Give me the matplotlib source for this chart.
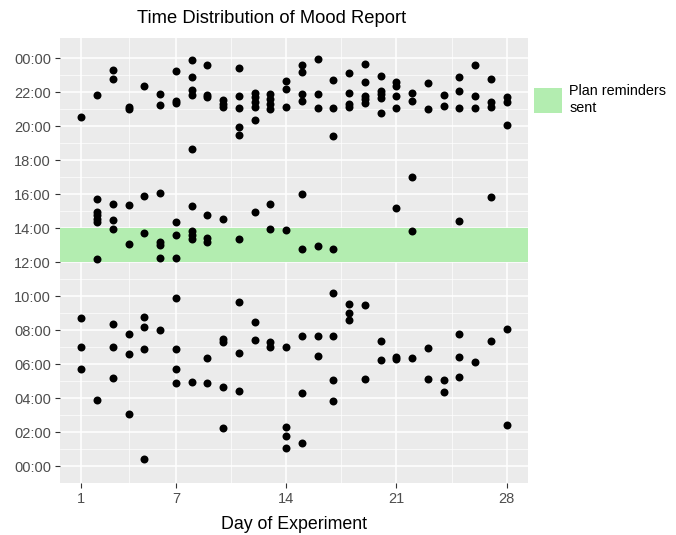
import numpy as np
import matplotlib.pyplot as plt
from matplotlib.patches import Patch

plt.rcParams['font.family'] = ['Liberation Sans', 'DejaVu Sans']

# evening reports (day, hour of day)
eve_day = [1, 2, 3, 3, 4, 4, 5, 6, 6, 7, 7, 7, 8, 8, 8, 8, 8, 9, 9, 9,
           10, 10, 10, 11, 11, 11, 11, 11, 12, 12, 12, 12, 12, 13, 13, 13, 13,
           14, 14, 14, 15, 15, 15, 15, 16, 16, 16, 17, 17, 17, 18, 18, 18, 18,
           19, 19, 19, 19, 19, 20, 20, 20, 20, 20, 21, 21, 21, 21, 22, 22,
           23, 23, 24, 24, 25, 25, 25, 26, 26, 26, 27, 27, 27, 28, 28, 28]
eve_hour = [20.55, 21.86, 23.33, 22.76, 21.0, 21.12, 22.37, 21.92, 21.24, 23.25, 21.5, 21.4,
            23.92, 22.88, 22.12, 21.86, 18.67, 23.63, 21.86, 21.72,
            21.53, 21.33, 21.14, 23.43, 21.8, 21.1, 19.96, 19.51,
            21.96, 21.72, 21.45, 21.14, 20.35, 21.88, 21.63, 21.33, 21.04,
            22.67, 22.2, 21.14, 23.63, 23.18, 21.88, 21.49, 23.98, 21.88, 21.08,
            22.75, 21.1, 19.45, 23.16, 21.98, 21.3, 21.14,
            23.65, 22.6, 21.8, 21.6, 21.37, 22.94, 22.08, 21.88, 21.67, 20.78,
            22.6, 22.37, 21.76, 21.08, 21.96, 21.49,
            22.55, 21.04, 21.86, 21.18, 22.9, 22.08, 21.08, 23.63, 21.8, 21.08,
            22.8, 21.43, 21.14, 21.72, 21.43, 20.1]

# midday reports
mid_day = [2, 2, 2, 2, 2, 2, 3, 3, 3, 4, 4, 5, 5, 6, 6, 6, 6, 7, 7, 7,
           8, 8, 8, 8, 9, 9, 9, 10, 11, 12, 13, 13, 14, 15, 15, 16, 17,
           21, 22, 22, 25, 27]
mid_hour = [15.7, 14.96, 14.76, 14.57, 14.37, 12.18, 15.45, 14.51, 13.98, 15.39, 13.05,
            15.88, 13.69, 16.08, 13.2, 13.0, 12.22, 14.37, 13.59, 12.25,
            15.29, 13.84, 13.59, 13.35, 14.78, 13.45, 13.2, 14.52, 13.35, 14.96,
            15.41, 13.94, 13.9, 16.04, 12.8, 12.96, 12.8,
            15.18, 17.02, 13.84, 14.45, 15.84]

# morning reports
morn_day = [1, 1, 1, 2, 3, 3, 3, 4, 4, 4, 5, 5, 5, 5, 6, 7, 7, 7, 7, 8,
            9, 9, 10, 10, 10, 10, 11, 11, 11, 12, 12, 13, 13, 14, 14, 14, 14,
            15, 15, 15, 16, 16, 17, 17, 17, 17, 18, 18, 18, 19, 19, 20, 20,
            21, 21, 22, 23, 23, 24, 24, 25, 25, 25, 26, 27, 28, 28]
morn_hour = [8.69, 6.98, 5.71, 3.88, 8.39, 6.98, 5.2, 7.75, 6.59, 3.06,
             8.78, 8.2, 6.88, 0.39, 8.0, 9.92, 6.86, 5.71, 4.86, 4.96,
             6.37, 4.9, 7.45, 7.31, 4.63, 2.22, 9.66, 6.63, 4.41, 8.45, 7.41,
             7.31, 7.02, 7.02, 2.31, 1.78, 1.04, 7.65, 4.27, 1.33, 7.65, 6.49,
             10.16, 7.67, 5.06, 3.84, 9.55, 8.98, 8.57, 9.49, 5.12, 7.37, 6.22,
             6.43, 6.29, 6.33, 6.94, 5.14, 5.06, 4.35, 7.8, 6.39, 5.24, 6.14,
             7.37, 8.06, 2.39]

reminder_start = 12
reminder_end = 14
x_breaks = [1, 7, 14, 21, 28]
y_breaks = list(range(0, 25, 2))
y_labels = ['%02d:00' % (h % 24) for h in y_breaks]

days = np.array(eve_day + mid_day + morn_day)
hours = np.array(eve_hour + mid_hour + morn_hour)

fig = plt.figure(figsize=(6.76, 5.35), dpi=100)
ax = fig.add_axes([0.0888, 0.0972, 0.6922, 0.8318])
ax.set_facecolor('#ebebeb')
for s in ax.spines.values():
    s.set_visible(False)

ax.axhspan(reminder_start, reminder_end, color='#b3edb0', lw=0, zorder=1)
ax.scatter(days, hours, s=33, c='black', lw=0, zorder=3)

ax.set_xlim(-0.35, 29.35)
ax.set_ylim(-1.0, 25.2)
ax.set_xticks(x_breaks)
ax.set_xticks([4, 10.5, 17.5, 24.5], minor=True)
ax.set_yticks(y_breaks)
ax.set_yticklabels(y_labels)
ax.set_yticks(range(1, 25, 2), minor=True)
ax.grid(which='major', color='white', lw=1.1, zorder=0)
ax.grid(which='minor', color='white', lw=0.5, zorder=0)
ax.set_axisbelow(True)
ax.tick_params(which='major', length=3.5, width=0.8, color='#333333',
               labelsize=10.5, labelcolor='#4d4d4d', pad=3)
ax.tick_params(which='minor', length=0)

ax.set_xlabel('Day of Experiment', fontsize=12.8, labelpad=7)
fig.text(0.402, 0.965, 'Time Distribution of Mood Report', fontsize=13.2,
         ha='center', va='center')

handle = Patch(facecolor='#b3edb0', edgecolor='none')
ax.legend([handle], ['Plan reminders\nsent'], loc='upper left',
          bbox_to_anchor=(0.782, 0.853), bbox_transform=fig.transFigure,
          frameon=False, fontsize=10.4, handlelength=1.9, handleheight=2.2,
          handletextpad=0.5, borderaxespad=0)

fig.savefig('out.png', dpi=100)
